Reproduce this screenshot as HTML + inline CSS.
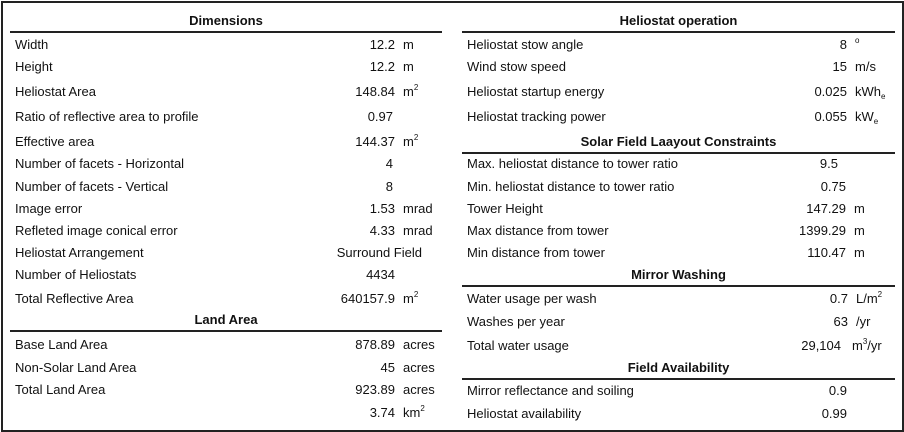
<!DOCTYPE html>
<html><head><meta charset="utf-8"><style>
body{margin:0;width:904px;height:432px;background:#fff;overflow:hidden;font-family:"Liberation Sans",sans-serif;color:#111}
#frame{position:absolute;left:1px;top:1px;width:899px;height:427px;border:2px solid #222}
.t{position:absolute;font-size:13px;line-height:16px;white-space:nowrap}
.h{font-weight:bold;text-align:center}
.v{text-align:right}
.ln{position:absolute;height:2px;background:#222}
sup,sub{font-size:8px;line-height:0;position:relative;vertical-align:baseline}
sup{top:-6px}
sub{top:3px}
</style></head><body>
<div id="frame"></div>
<div id="c"></div>
<script>
const c=document.getElementById('c');
function add(cls,txt,style,name){const d=document.createElement('div');d.className=cls;d.innerHTML=txt;d.style.cssText=style;


c.appendChild(d);}
add('t h','Dimensions','left:10px;width:432px;top:13px','dimensions-header');
add('ln','','left:10px;width:432px;top:31px','dimensions-rule');
add('t h','Land Area','left:10px;width:432px;top:312px','land-area-header');
add('ln','','left:10px;width:432px;top:330px','land-area-rule');
add('t h','Heliostat operation','left:462px;width:433px;top:13px','heliostat-operation-header');
add('ln','','left:462px;width:433px;top:31px','heliostat-operation-rule');
add('t h','Solar Field Laayout Constraints','left:462px;width:433px;top:134px','layout-constraints-header');
add('ln','','left:462px;width:433px;top:152px','layout-constraints-rule');
add('t h','Mirror Washing','left:462px;width:433px;top:267px','mirror-washing-header');
add('ln','','left:462px;width:433px;top:285px','mirror-washing-rule');
add('t h','Field Availability','left:462px;width:433px;top:360px','field-availability-header');
add('ln','','left:462px;width:433px;top:378px','field-availability-rule');
const L=[
[45,'Width','12.2','m',395],
[67,'Height','12.2','m',395],
[92,'Heliostat Area','148.84','m<sup>2</sup>',395],
[117,'Ratio of reflective area to profile','0.97','',393],
[142,'Effective area','144.37','m<sup>2</sup>',395],
[164,'Number of facets - Horizontal','4','',393],
[187,'Number of facets - Vertical','8','',393],
[209,'Image error','1.53','mrad',395],
[231,'Refleted image conical error','4.33','mrad',395],
[253,'Heliostat Arrangement','Surround Field','',422],
[275,'Number of Heliostats','4434','',395],
[299,'Total Reflective Area','640157.9','m<sup>2</sup>',395],
[345,'Base Land Area','878.89','acres',395],
[368,'Non-Solar Land Area','45','acres',395],
[390,'Total Land Area','923.89','acres',395],
[413,'','3.74','km<sup>2</sup>',395]];
const R=[
[45,'Heliostat stow angle','8','<sup>o</sup>',847],
[67,'Wind stow speed','15','m/s',847],
[92,'Heliostat startup energy','0.025','kWh<sub>e</sub>',847],
[117,'Heliostat tracking power','0.055','kW<sub>e</sub>',847],
[164,'Max. heliostat distance to tower ratio','9.5','',838],
[187,'Min. heliostat distance to tower ratio','0.75','',846],
[209,'Tower Height','147.29','m',846],
[231,'Max distance from tower','1399.29','m',846],
[253,'Min distance from tower','110.47','m',846],
[299,'Water usage per wash','0.7','L/m<sup>2</sup>',848],
[322,'Washes per year','63','/yr',848],
[346,'Total water usage','29,104','m<sup>3</sup>/yr',841],
[391,'Mirror reflectance and soiling','0.9','',847],
[414,'Heliostat availability','0.99','',847]];
function rows(arr,lx,side){arr.forEach((r,i)=>{const top=r[0]-8;
if(r[1])add('t',r[1],'left:'+lx+'px;top:'+top+'px',side+'-label-'+i);
add('t v',r[2],'left:'+(r[4]-150)+'px;width:150px;top:'+top+'px',side+'-value-'+i);
if(r[3])add('t',r[3],'left:'+(r[4]+(r[3].indexOf('m<sup>3')==0?11:8))+'px;top:'+top+'px',side+'-unit-'+i);});}
rows(L,15,'left');rows(R,467,'right');
</script>
</body></html>
